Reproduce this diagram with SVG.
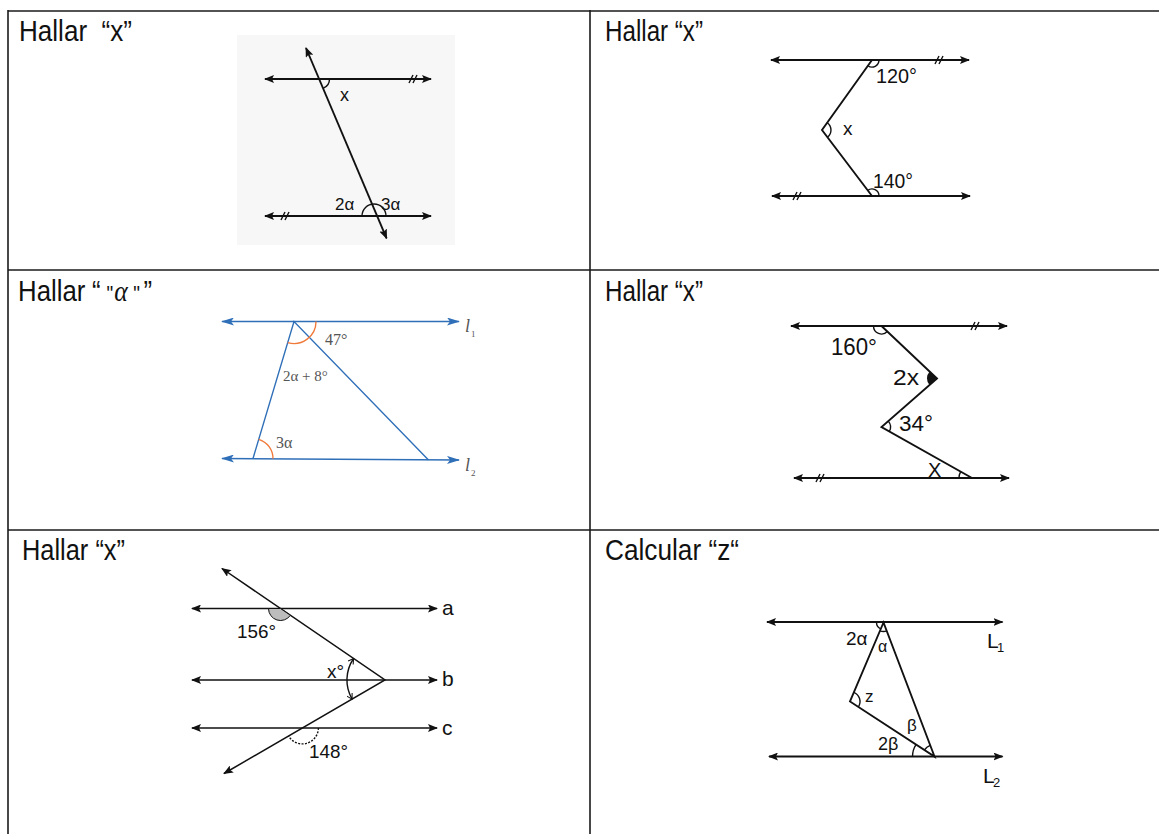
<svg xmlns="http://www.w3.org/2000/svg" width="1159" height="834" viewBox="0 0 1159 834">
<defs>
<marker id="ah" viewBox="0 0 10 8" refX="9" refY="4" markerWidth="10" markerHeight="8" markerUnits="userSpaceOnUse" orient="auto-start-reverse"><path d="M0,0 L10,4 L0,8 L2,4 z" fill="#111"/></marker>
<marker id="ahb" viewBox="0 0 13 8" refX="12" refY="4" markerWidth="13" markerHeight="8" markerUnits="userSpaceOnUse" orient="auto-start-reverse"><path d="M0,0 L13,4 L0,8 L3,4 z" fill="#2f6fb8"/></marker>
<marker id="ahs" viewBox="0 0 8 8" refX="7" refY="4" markerWidth="7" markerHeight="7" markerUnits="userSpaceOnUse" orient="auto-start-reverse"><path d="M1,0.5 L7,4 L1,7.5" fill="none" stroke="#111" stroke-width="1.2"/></marker>
</defs>
<style>
.tbl{stroke:#1a1a1a;stroke-width:1.6;fill:none}
.ttl{font-family:"Liberation Sans Narrow","Liberation Sans",Arial,sans-serif;font-size:30px;fill:#111}
.ln{stroke:#111;stroke-width:1.9;fill:none}
.ln5{stroke:#111;stroke-width:1.5;fill:none}
.dbl{marker-start:url(#ah);marker-end:url(#ah)}
.arc{stroke:#111;stroke-width:1.4;fill:none}
.lb{font-family:"Liberation Sans",Arial,sans-serif;fill:#111}
.bl{stroke:#2f6fb8;stroke-width:1.4;fill:none}
.or{stroke:#f07a3a;stroke-width:1.4;fill:none}
.sf{font-family:"Liberation Serif","Times New Roman",serif;fill:#555}
</style>
<rect width="1159" height="834" fill="#fff"/>
<g id="table">
<line class="tbl" x1="8" y1="11" x2="1159" y2="11"/>
<line class="tbl" x1="8" y1="270" x2="1159" y2="270"/>
<line class="tbl" x1="8" y1="530" x2="1159" y2="530"/>
<line class="tbl" x1="8" y1="10" x2="8" y2="834" stroke-width="2"/>
<line class="tbl" x1="590" y1="10" x2="590" y2="834" stroke-width="2"/>
</g>
<g id="panel1">
<text class="ttl" x="19" y="41" textLength="113" lengthAdjust="spacingAndGlyphs" xml:space="preserve">Hallar  “x”</text>
<rect x="237" y="35" width="218" height="210" fill="#f7f7f7"/>
<line class="ln dbl" x1="265" y1="79" x2="431" y2="79"/>
<line class="ln dbl" x1="265" y1="216" x2="431" y2="216"/>
<line class="ln dbl" x1="306" y1="48" x2="386.6" y2="238.3"/>
<path class="arc" d="M409,83 L413,75 M413,83 L417,75 M281,220 L285,212 M285,220 L289,212"/>
<path class="arc" d="M323.4,88.2 A10,10 0 0 0 329.5,79"/>
<path class="arc" d="M362,216 A12,12 0 0 1 386,216"/>
<text class="lb" x="340" y="101" font-size="18">x</text>
<text class="lb" x="335" y="210" font-size="17">2α</text>
<text class="lb" x="381" y="210" font-size="17">3α</text>
</g>
<g id="panel2">
<text class="ttl" x="605" y="41" textLength="98" lengthAdjust="spacingAndGlyphs">Hallar “x”</text>
<line class="ln dbl" x1="771" y1="60" x2="969" y2="60"/>
<line class="ln dbl" x1="772" y1="196" x2="970" y2="196"/>
<polyline class="ln" points="872,60 822,130 872,196"/>
<path class="arc" d="M935,64 L939,56 M939,64 L943,56 M793,200 L797,192 M797,200 L801,192"/>
<path class="arc" d="M879,60 A7,7 0 0 1 867.9,65.7"/>
<path class="arc" d="M827.2,122.7 A9,9 0 0 1 827.4,137.2"/>
<path class="arc" d="M879,196 A7,7 0 0 0 867.8,190.4"/>
<text class="lb" x="876" y="83" font-size="21" textLength="41" lengthAdjust="spacingAndGlyphs">120°</text>
<text class="lb" x="843" y="135" font-size="19">x</text>
<text class="lb" x="873" y="188" font-size="21" textLength="40" lengthAdjust="spacingAndGlyphs">140°</text>
</g>
<g id="panel3">
<text class="ttl" transform="translate(18,301) scale(0.86,1)" x="0" y="0"><tspan>Hallar</tspan><tspan x="86">“</tspan><tspan x="103" font-size="22">"</tspan><tspan x="112" font-family="Liberation Serif,serif" font-style="italic">α</tspan><tspan x="134" font-size="22">"</tspan><tspan x="146">”</tspan></text>
<line class="bl" x1="222" y1="321.5" x2="459" y2="321.5" marker-start="url(#ahb)" marker-end="url(#ahb)"/>
<line class="bl" x1="222" y1="458.5" x2="459" y2="460" marker-start="url(#ahb)" marker-end="url(#ahb)"/>
<polyline class="bl" points="253,458.5 294,321.5 428.5,460"/>
<path class="or" d="M287.7,342.6 A22,22 0 0 0 316,321.5"/>
<path class="or" d="M258.7,439.3 A20,20 0 0 1 273,458.7"/>
<text class="sf" x="325" y="345" font-size="16">47°</text>
<text class="sf" x="283" y="381" font-size="15">2α + 8°</text>
<text class="sf" x="276" y="448" font-size="16">3α</text>
<text class="sf" x="465" y="332" font-size="18" font-style="italic">l</text>
<text class="sf" x="471" y="337" font-size="9">1</text>
<text class="sf" x="465" y="471" font-size="18" font-style="italic">l</text>
<text class="sf" x="471" y="476" font-size="9">2</text>
</g>
<g id="panel4">
<text class="ttl" x="605" y="301" textLength="98" lengthAdjust="spacingAndGlyphs">Hallar “x”</text>
<line class="ln dbl" x1="791" y1="326" x2="1007" y2="326"/>
<line class="ln dbl" x1="794" y1="478" x2="1009" y2="478"/>
<polyline class="ln" points="881.5,326 937,378.5 881.5,427 972,478"/>
<path class="arc" d="M971,330 L975,322 M975,330 L979,322 M816,482 L820,474 M820,482 L824,474"/>
<path class="arc" d="M873.5,326 A8,8 0 0 0 887.3,331.5"/>
<path d="M937,378.5 L929.5,385.1 A10,10 0 0 1 929.7,371.6 Z" fill="#111"/>
<path class="arc" d="M888.3,421.1 A9,9 0 0 1 889.3,431.4"/>
<path class="arc" d="M959,478 A13,13 0 0 1 960.7,471.6"/>
<text class="lb" x="831" y="355" font-size="24" textLength="46" lengthAdjust="spacingAndGlyphs">160°</text>
<text class="lb" x="893" y="385" font-size="22" textLength="26" lengthAdjust="spacingAndGlyphs">2x</text>
<text class="lb" x="899" y="431" font-size="22" textLength="34" lengthAdjust="spacingAndGlyphs">34°</text>
<text class="lb" x="928" y="477" font-size="20">X</text>
</g>
<g id="panel5">
<text class="ttl" x="22" y="560" textLength="103" lengthAdjust="spacingAndGlyphs">Hallar “x”</text>
<line class="ln5" x1="192" y1="608.5" x2="437" y2="608.5" marker-start="url(#ah)" marker-end="url(#ah)"/>
<line class="ln5" x1="192" y1="680" x2="437" y2="680" marker-start="url(#ah)" marker-end="url(#ah)"/>
<line class="ln5" x1="192" y1="728" x2="437" y2="728" marker-start="url(#ah)" marker-end="url(#ah)"/>
<polyline class="ln5" points="222,568.5 385,680 224,773.5" marker-start="url(#ah)" marker-end="url(#ah)"/>
<path d="M280.5,608.5 L290.4,615.3 A12,12 0 0 1 268.5,608.5 Z" fill="#bdbdbd" stroke="#111" stroke-width="1"/>
<path class="arc" d="M318.4,728 A16,16 0 0 1 288.6,736" stroke-dasharray="2 1.4"/>
<path class="arc" d="M353.6,658.5 A38,38 0 0 0 352.1,699.1" marker-start="url(#ahs)" marker-end="url(#ahs)"/>
<text class="lb" x="237" y="638" font-size="19" textLength="39" lengthAdjust="spacingAndGlyphs">156°</text>
<text class="lb" x="309" y="758" font-size="19" textLength="39" lengthAdjust="spacingAndGlyphs">148°</text>
<text class="lb" x="327" y="678" font-size="19">x°</text>
<text class="lb" x="442" y="615" font-size="21">a</text>
<text class="lb" x="442" y="686" font-size="21">b</text>
<text class="lb" x="442" y="735" font-size="21">c</text>
</g>
<g id="panel6">
<text class="ttl" x="605" y="560" textLength="134" lengthAdjust="spacingAndGlyphs">Calcular “z“</text>
<line class="ln dbl" x1="767" y1="622" x2="1002.5" y2="622"/>
<line class="ln dbl" x1="769" y1="756.5" x2="1002.5" y2="756.5"/>
<polygon class="ln" points="883.5,622.5 850,701.5 934.5,756.5"/>
<path class="arc" d="M876.5,622.5 A7,7 0 0 0 880.8,628.9"/>
<path class="arc" d="M880,630.8 A9,9 0 0 0 886.7,630.9"/>
<path class="arc" d="M853.9,692.3 A10,10 0 0 1 858.4,706.9"/>
<path class="arc" d="M912.5,756.5 A22,22 0 0 1 916,744.6"/>
<path class="arc" d="M924.4,750 A12,12 0 0 1 930.2,745.3"/>
<text class="lb" x="846" y="645" font-size="19">2α</text>
<text class="lb" x="878" y="652" font-size="16">α</text>
<text class="lb" x="865" y="702" font-size="17">z</text>
<text class="lb" x="907" y="731" font-size="17">β</text>
<text class="lb" x="878" y="750" font-size="18">2β</text>
<text class="lb" x="987" y="648" font-size="21">L</text>
<text class="lb" x="997" y="652" font-size="13">1</text>
<text class="lb" x="983" y="783" font-size="21">L</text>
<text class="lb" x="993" y="787" font-size="13">2</text>
</g>
</svg>
